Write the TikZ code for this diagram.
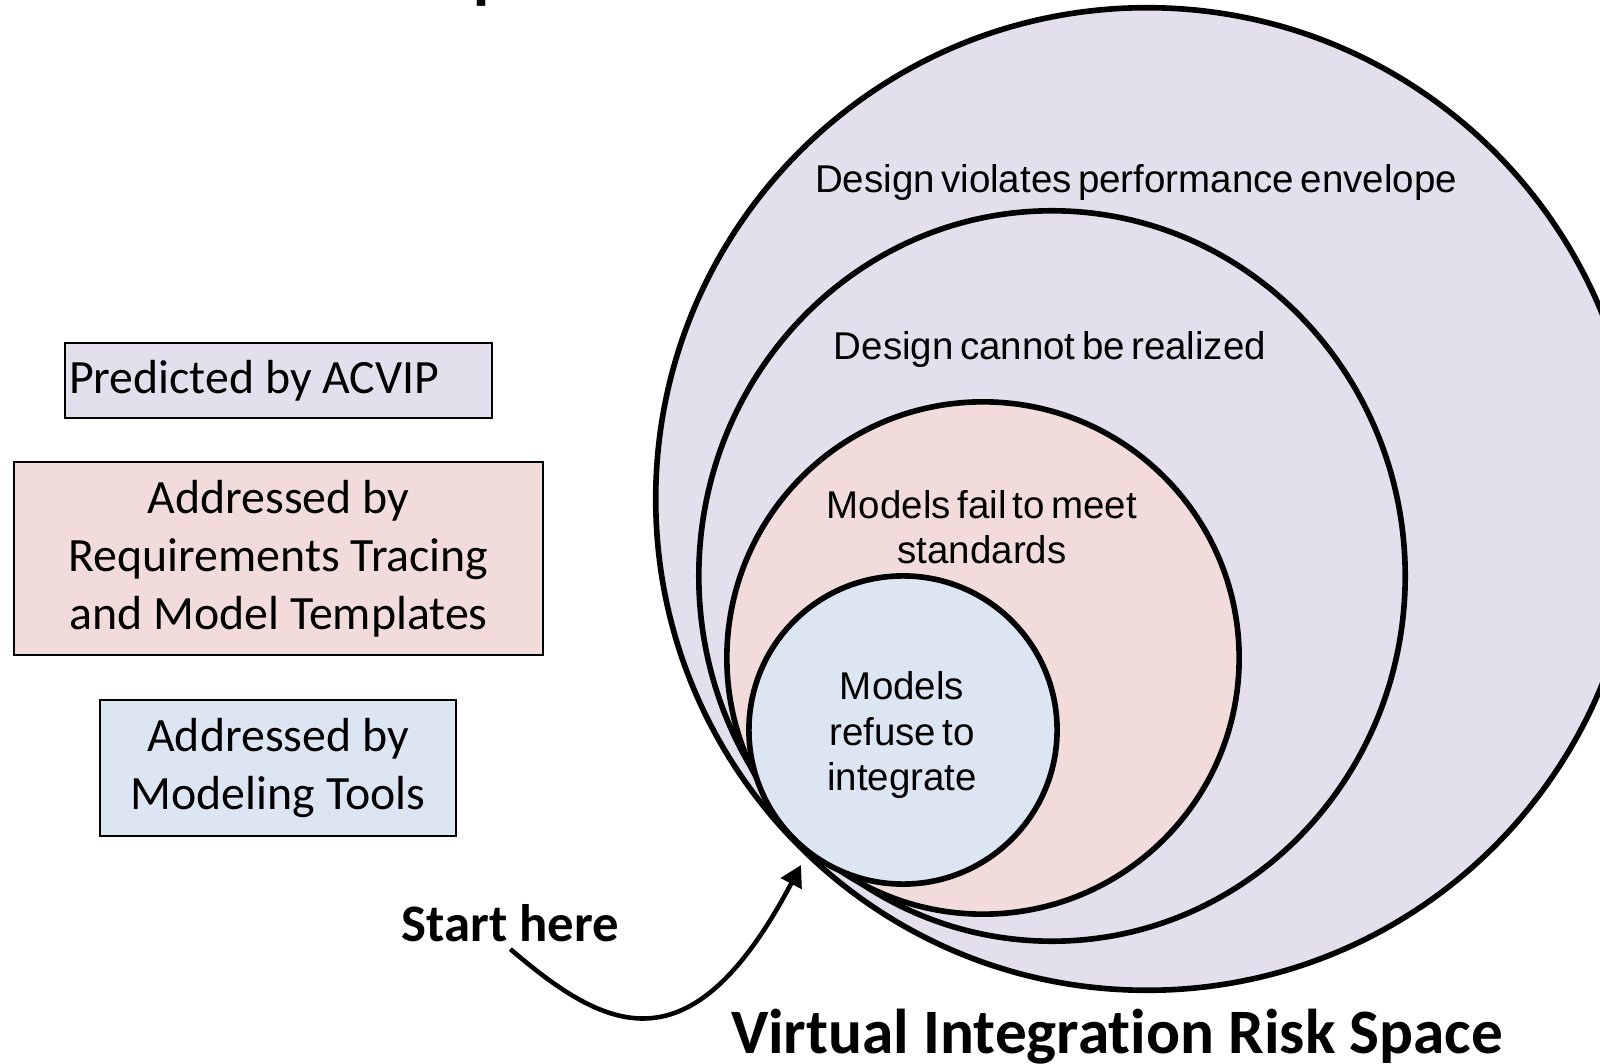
\documentclass[tikz,border=0pt]{standalone}
\usepackage{fontspec}
\usepackage{tikz}
\usetikzlibrary{arrows.meta}
\usepackage{color}
\setmainfont{Carlito}[Ligatures=NoCommon]
\newfontfamily\labelfont[FakeStretch=0.995,WordSpace=0.6]{Liberation Sans}
\definecolor{riskpurple}{HTML}{E4DFEC}
\definecolor{riskpink}{HTML}{F2DCDB}
\definecolor{riskblue}{HTML}{DCE6F2}

\begin{document}
\begin{tikzpicture}[x=0.01cm,y=-0.01cm,
  ring/.style={draw=black,line width=1.6pt},
  keybox/.style={draw=black,line width=0.6pt,inner sep=0pt,align=center,font=\fontsize{13.6}{16.5}\selectfont},
  risktext/.style={align=center,inner sep=0pt,font=\labelfont\fontsize{11}{12.8}\selectfont}]
\useasboundingbox (0,0) rectangle (1600,1064);

\node[anchor=base west,inner sep=0pt,font=\fontsize{28}{30}\selectfont] (cut) at (470,-9) {p};

\filldraw[ring,fill=riskpurple] (1147,499) circle (4.91cm);
\filldraw[ring,fill=riskpurple] (1052,576) ellipse (3.53cm and 3.65cm);
\filldraw[ring,fill=riskpink] (983,658) circle (2.56cm);
\filldraw[ring,fill=riskblue] (903,730) circle (1.54cm);

\node[risktext] (envelope) at (1136,183) {Design violates performance envelope};
\node[risktext] (realized) at (1050,349) {Design cannot be realized};
\node[risktext] (standards) at (982,527) {Models fail to meet\\standards};
\node[risktext] (refuse) at (902,735) {Models\\refuse to\\integrate};

\node[keybox,fill=riskpurple,anchor=north west,text width=4.19cm,align=flush left,inner xsep=0.04cm,minimum height=0.75cm] (acvip) at (64,342) {Predicted by ACVIP};
\node[keybox,fill=riskpink,minimum width=5.29cm,minimum height=1.93cm] (tracing) at (278.5,558.5) {Addressed by\\Requirements Tracing\\and Model Templates};
\node[keybox,fill=riskblue,minimum width=3.56cm,minimum height=1.36cm] (tools) at (278,768) {Addressed by\\Modeling Tools};

\node[anchor=base west,inner sep=2pt,font=\bfseries\fontsize{15}{18}\selectfont] (start) at (394,941) {Start here};
\coordinate (tip) at (801,865);
\draw[line width=1.3pt,-{Triangle[length=6pt,width=6.5pt]}] (start.south) .. controls (605,1030) and (690,1075) .. (tip);

\node[anchor=base,inner sep=0pt,font=\bfseries\fontsize{18}{20}\selectfont] (space) at (1117,1053) {Virtual Integration Risk Space};
\end{tikzpicture}
\end{document}
